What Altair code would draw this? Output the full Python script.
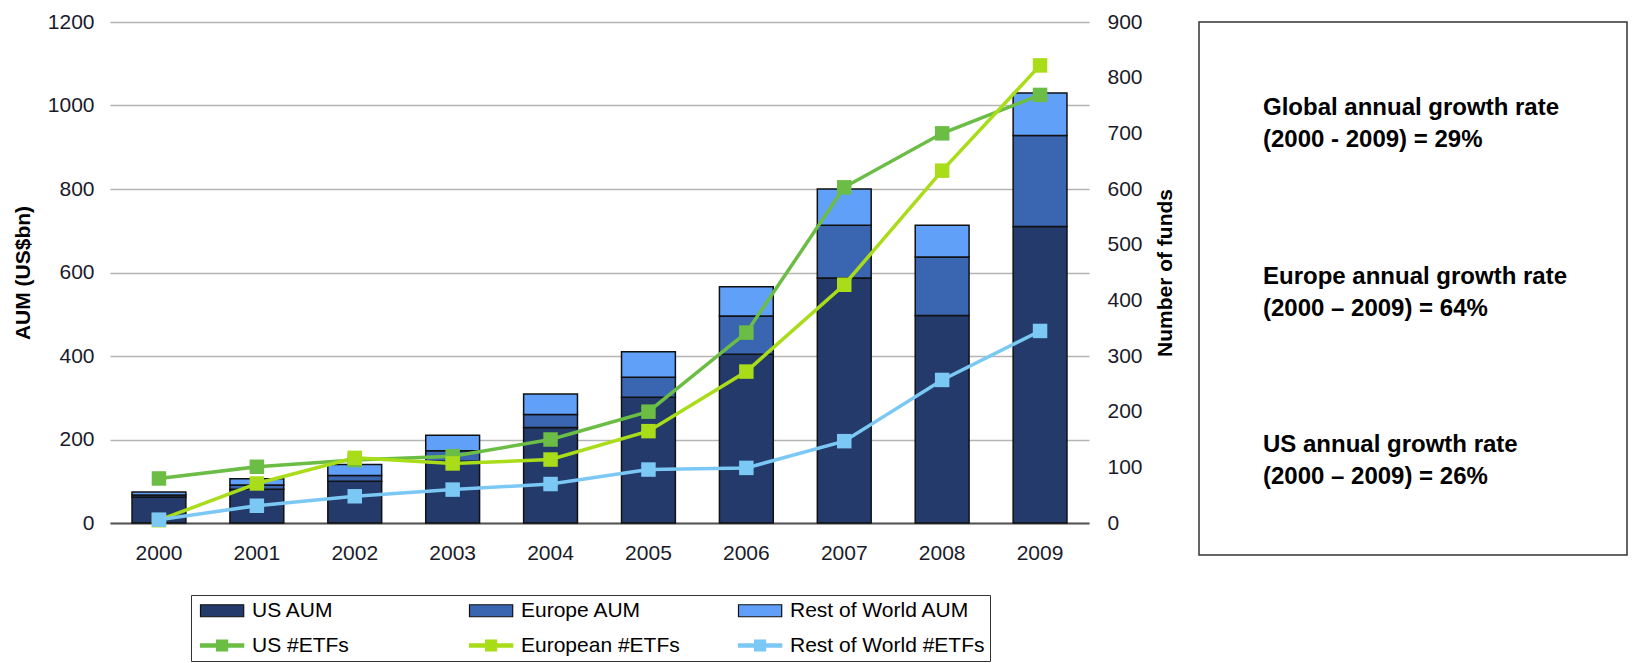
import altair as alt
import pandas as pd

# ---------------- data ----------------
years = ["2000", "2001", "2002", "2003", "2004", "2005", "2006", "2007", "2008", "2009"]

aum_names = ["US AUM", "Europe AUM", "Rest of World AUM"]
us_aum = [62, 81, 100, 148, 229, 301, 404, 587, 497, 710]
europe_aum = [5, 10, 14, 25, 31, 48, 92, 126, 140, 218]
row_aum = [7, 15, 26, 37, 49, 61, 70, 87, 76, 102]

etf_names = ["US #ETFs", "European #ETFs", "Rest of World #ETFs"]
us_etfs = [80, 101, 113, 120, 150, 200, 342, 603, 700, 769]
eu_etfs = [5, 71, 117, 107, 114, 165, 272, 428, 633, 822]
row_etfs = [6, 31, 48, 60, 70, 96, 99, 147, 257, 345]

growth_titles = ["Global annual growth rate", "Europe annual growth rate", "US annual growth rate"]
growth_periods = ["(2000 - 2009) = 29%", "(2000 \u2013 2009) = 64%", "(2000 \u2013 2009) = 26%"]

left_ticks = [0, 200, 400, 600, 800, 1000, 1200]
right_ticks = [0, 100, 200, 300, 400, 500, 600, 700, 800, 900]

# ---------------- styles ----------------
aum_colors = ["#233a6a", "#3a65b0", "#61a0f8"]
etf_colors = ["#6cbd45", "#a9dc19", "#7cc8f5"]
FONT = "Liberation Sans"

aum_path = "M-1,-1H6.2V1H-1Z"
etf_path = "M-1,-0.27H6.2V0.27H-1Z M1.68,-0.92H3.52V0.92H1.68Z"

series_domain = aum_names + etf_names
fill_scale = alt.Scale(domain=series_domain, range=aum_colors + etf_colors)
stroke_scale = alt.Scale(domain=series_domain, range=["#111111"] * 3 + etf_colors)
shape_scale = alt.Scale(domain=series_domain, range=[aum_path] * 3 + [etf_path] * 3)

legend = alt.Legend(
    title=None, orient="none", legendX=81, legendY=573, columns=3, direction="horizontal",
    gridAlign="all", columnPadding=18, rowPadding=13, symbolSize=144, labelOffset=35,
    labelLimit=400, labelFont=FONT, labelFontSize=21, labelColor="#000000",
    strokeColor="#333333", padding=5, symbolStrokeWidth=1.2,
)

# ---------------- tables ----------------
bar_rows = []
for i, y in enumerate(years):
    for k, (name, vals) in enumerate(zip(aum_names, [us_aum, europe_aum, row_aum])):
        bar_rows.append({"year": y, "series": name, "value": vals[i], "ord": k})
bars_df = pd.DataFrame(bar_rows)

line_rows = []
for i, y in enumerate(years):
    for name, vals in zip(etf_names, [us_etfs, eu_etfs, row_etfs]):
        line_rows.append({"year": y, "series": name, "funds": vals[i]})
lines_df = pd.DataFrame(line_rows)

legend_df = pd.DataFrame({"series": series_domain})
text_df = pd.DataFrame({"block": [0, 1, 2], "head": growth_titles, "period": growth_periods})

# ---------------- main chart ----------------
x_enc = alt.X(
    "year:O", sort=years,
    scale=alt.Scale(paddingInner=0.45, paddingOuter=0.225),
    axis=alt.Axis(title=None, labelAngle=0, ticks=False, domain=True, domainColor="#555555",
                  domainWidth=2, labelPadding=19, labelFont=FONT, labelFontSize=21,
                  labelColor="#1a1a2a", grid=False),
)

bars = alt.Chart(bars_df).mark_bar(strokeWidth=1.5).encode(
    x=x_enc,
    y=alt.Y("value:Q", stack="zero", scale=alt.Scale(domain=[0, 1200]),
            axis=alt.Axis(title="AUM (US$bn)", values=left_ticks, format="d", grid=True,
                          gridColor="#b5b5b5", gridWidth=1.5, domain=False, ticks=False,
                          labelPadding=16, titlePadding=14,
                          labelFont=FONT, labelFontSize=21, labelColor="#1a1a2a",
                          titleFont=FONT, titleFontSize=21, titleFontWeight="bold",
                          titleColor="#000000")),
    fill=alt.Fill("series:N", scale=fill_scale, legend=legend),
    stroke=alt.Stroke("series:N", scale=stroke_scale, legend=legend),
    order=alt.Order("ord:Q"),
)

y2 = alt.Y("funds:Q", scale=alt.Scale(domain=[0, 900]),
           axis=alt.Axis(orient="right", title="Number of funds", values=right_ticks, format="d",
                         grid=False, domain=False, ticks=False, labelPadding=18, titlePadding=12,
                         titleAngle=270, titleBaseline="top",
                         labelFont=FONT, labelFontSize=21, labelColor="#1a1a2a",
                         titleFont=FONT, titleFontSize=21, titleFontWeight="bold",
                         titleColor="#000000"))

lines = alt.Chart(lines_df).mark_line(strokeWidth=3.5).encode(
    x=x_enc, y=y2,
    stroke=alt.Stroke("series:N", scale=stroke_scale, legend=legend),
    detail="series:N",
)
points = alt.Chart(lines_df).mark_point(filled=True, shape="square", size=210, opacity=1).encode(
    x=x_enc, y=y2,
    fill=alt.Fill("series:N", scale=fill_scale, legend=legend),
)
dummy = alt.Chart(legend_df).transform_filter("false").mark_point(filled=True).encode(
    shape=alt.Shape("series:N", scale=shape_scale, legend=legend),
    fill=alt.Fill("series:N", scale=fill_scale, legend=legend),
    stroke=alt.Stroke("series:N", scale=stroke_scale, legend=legend),
)

main = alt.layer(bars, alt.layer(lines, points), dummy).resolve_scale(y="independent").properties(
    width=979, height=501
)

# ---------------- text panel ----------------
panel = alt.Chart(text_df).transform_calculate(
    label="datum.head + '\\n' + datum.period"
).mark_text(
    align="left", baseline="middle", lineBreak="\n", lineHeight=32, dy=-12,
    font=FONT, fontSize=24, fontWeight="bold", color="#000000",
).encode(
    x=alt.value(64),
    y=alt.Y("block:O", scale=alt.Scale(type="point", domain=[0, 1, 2], padding=0.577), axis=None),
    text="label:N",
).properties(width=428, height=533, view=alt.ViewBackground(stroke="#333333", strokeWidth=1.5))

chart = alt.hconcat(main, panel, spacing=22).properties(
    padding={"left": 3, "top": 2, "right": 0, "bottom": 0}
).configure_view(stroke="transparent")

chart.save("out.html", embed_options={"renderer": "svg", "actions": False})
